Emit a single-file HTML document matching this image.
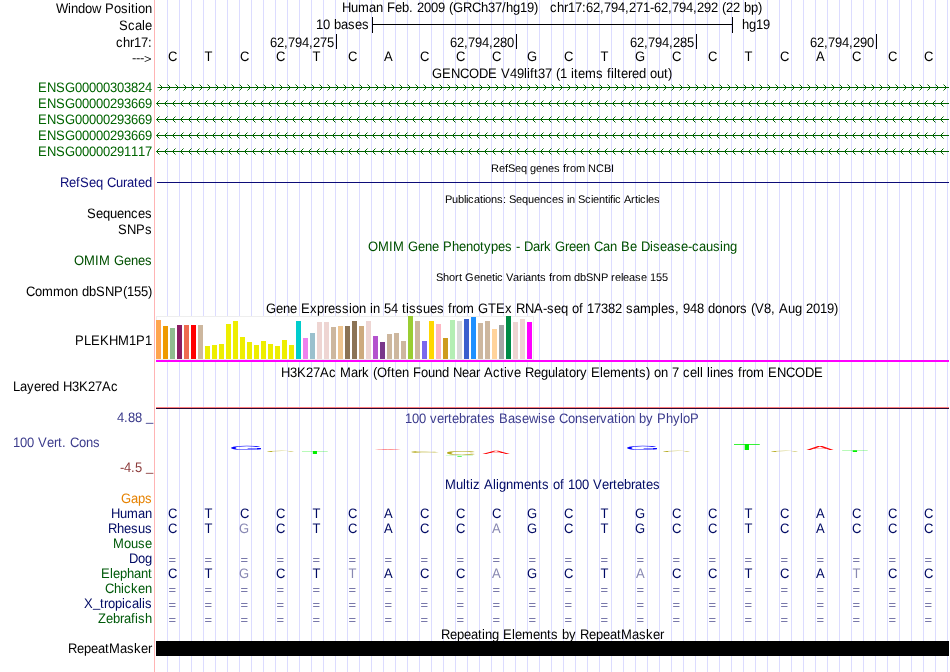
<!DOCTYPE html>
<html><head><meta charset="utf-8"><title>chr17:62,794,271-62,794,292</title>
<style>html,body{margin:0;padding:0;background:#fff}svg{display:block}text{text-rendering:geometricPrecision;white-space:pre;font-kerning:none;font-family:"Liberation Sans", sans-serif;font-size:13px;fill:#000}.s{font-size:11px}.q{font-size:11px;fill:#7878aa;text-rendering:auto}.g{fill:#006400}.b{fill:#0c0c78}.n{fill:#000a64}.v{fill:#005a0a}.o{fill:#005000}.e{text-anchor:end}.m{text-anchor:middle}</style>
</head><body>
<svg width="950" height="672" viewBox="0 0 950 672">
<rect width="950" height="672" fill="#fff"/>
<path d="M167 0v672M179 0v672M191 0v672M203 0v672M215 0v672M227 0v672M239 0v672M251 0v672M263 0v672M275 0v672M287 0v672M299 0v672M311 0v672M323 0v672M335 0v672M347 0v672M359 0v672M371 0v672M383 0v672M395 0v672M407 0v672M419 0v672M431 0v672M443 0v672M455 0v672M467 0v672M479 0v672M491 0v672M503 0v672M515 0v672M527 0v672M539 0v672M551 0v672M563 0v672M575 0v672M587 0v672M599 0v672M611 0v672M623 0v672M635 0v672M647 0v672M659 0v672M671 0v672M683 0v672M695 0v672M707 0v672M719 0v672M731 0v672M743 0v672M755 0v672M767 0v672M779 0v672M791 0v672M803 0v672M815 0v672M827 0v672M839 0v672M851 0v672M863 0v672M875 0v672M887 0v672M899 0v672M911 0v672M923 0v672M935 0v672M947 0v672" stroke="#dcdcff" stroke-width="1" transform="translate(.5 0)" shape-rendering="crispEdges" fill="none"/>
<rect x="154" y="0" width="1" height="672" fill="#ffb4b4"/>
<text transform="matrix(1 0 0 1.0600 0 12.5)" x="56 68 71 78 85 92 101 105 114 121 128 131 135 138 145" y="0">Window Position</text>
<text transform="matrix(1 0 0 1.0600 0 12)" x="342 351 358 369 376 383 387 395 402 409 413 417 424 431 438 445 449 453 463 472 481 488 495 502 506 513 520 527 534 538 542 546 550 557 564 568 575 582 586 593 600 604 611 618 625 629 636 643 650 654 661 668 672 679 686 693 697 704 711 718 722 726 733 740 744 751 758" y="0">Human Feb. 2009 (GRCh37/hg19)   chr17:62,794,271-62,794,292 (22 bp)</text>
<text transform="matrix(1 0 0 1.0600 0 29.5)" x="119 128 135 142 145" y="0">Scale</text>
<text transform="matrix(1 0 0 1.0600 0 29)" x="316 323 330 334 341 348 355 362" y="0">10 bases</text>
<path d="M372.5 17v16M732.5 17v16M372 24.5h361" stroke="#000" stroke-width="1" fill="none" shape-rendering="crispEdges"/>
<text transform="matrix(1 0 0 1.0600 0 29)" x="742 749 756 763" y="0">hg19</text>
<text transform="matrix(1 0 0 1.0600 0 46.5)" x="116 123 130 134 141 148" y="0">chr17:</text>
<rect x="336" y="34" width="1" height="15" fill="#000"/>
<text transform="matrix(1 0 0 1.0600 0 46.5)" x="270 277 284 288 295 302 309 313 320 327" y="0">62,794,275</text>
<rect x="516" y="34" width="1" height="15" fill="#000"/>
<text transform="matrix(1 0 0 1.0600 0 46.5)" x="450 457 464 468 475 482 489 493 500 507" y="0">62,794,280</text>
<rect x="696" y="34" width="1" height="15" fill="#000"/>
<text transform="matrix(1 0 0 1.0600 0 46.5)" x="630 637 644 648 655 662 669 673 680 687" y="0">62,794,285</text>
<rect x="876" y="34" width="1" height="15" fill="#000"/>
<text transform="matrix(1 0 0 1.0600 0 46.5)" x="810 817 824 828 835 842 849 853 860 867" y="0">62,794,290</text>
<text transform="matrix(1 0 0 0.9400 0 62.6)" x="132 136 140 144" y="-1 -1 -1 0">---&gt;</text>
<text transform="matrix(1 0 0 1.0600 0 60.5)" x="168" y="0">C</text>
<text transform="matrix(1 0 0 1.0600 0 60.5)" x="204.5" y="0">T</text>
<text transform="matrix(1 0 0 1.0600 0 60.5)" x="240" y="0">C</text>
<text transform="matrix(1 0 0 1.0600 0 60.5)" x="276" y="0">C</text>
<text transform="matrix(1 0 0 1.0600 0 60.5)" x="312.5" y="0">T</text>
<text transform="matrix(1 0 0 1.0600 0 60.5)" x="348" y="0">C</text>
<text transform="matrix(1 0 0 1.0600 0 60.5)" x="384" y="0">A</text>
<text transform="matrix(1 0 0 1.0600 0 60.5)" x="420" y="0">C</text>
<text transform="matrix(1 0 0 1.0600 0 60.5)" x="456" y="0">C</text>
<text transform="matrix(1 0 0 1.0600 0 60.5)" x="492" y="0">C</text>
<text transform="matrix(1 0 0 1.0600 0 60.5)" x="527" y="0">G</text>
<text transform="matrix(1 0 0 1.0600 0 60.5)" x="564" y="0">C</text>
<text transform="matrix(1 0 0 1.0600 0 60.5)" x="600.5" y="0">T</text>
<text transform="matrix(1 0 0 1.0600 0 60.5)" x="635" y="0">G</text>
<text transform="matrix(1 0 0 1.0600 0 60.5)" x="672" y="0">C</text>
<text transform="matrix(1 0 0 1.0600 0 60.5)" x="708" y="0">C</text>
<text transform="matrix(1 0 0 1.0600 0 60.5)" x="744.5" y="0">T</text>
<text transform="matrix(1 0 0 1.0600 0 60.5)" x="780" y="0">C</text>
<text transform="matrix(1 0 0 1.0600 0 60.5)" x="816" y="0">A</text>
<text transform="matrix(1 0 0 1.0600 0 60.5)" x="852" y="0">C</text>
<text transform="matrix(1 0 0 1.0600 0 60.5)" x="888" y="0">C</text>
<text transform="matrix(1 0 0 1.0600 0 60.5)" x="924" y="0">C</text>
<text transform="matrix(1 0 0 1.0600 0 77.6)" x="432 442 451 460 469 479 488 497 501 510 517 524 527 530 534 538 545 552 556 560 567 571 574 578 585 596 603 607 611 614 617 621 628 632 639 646 650 657 664 668" y="0">GENCODE V49lift37 (1 items filtered out)</text>
<text transform="matrix(1 0 0 1.0600 0 92)" x="38 47 56 65 75 82 89 96 103 110 117 124 131 138 145" y="0" class="g">ENSG00000303824</text>
<path d="M157 87.5H948.5M159 84.5l3 3l-3 3M167 84.5l3 3l-3 3M175 84.5l3 3l-3 3M183 84.5l3 3l-3 3M191 84.5l3 3l-3 3M199 84.5l3 3l-3 3M207 84.5l3 3l-3 3M215 84.5l3 3l-3 3M223 84.5l3 3l-3 3M231 84.5l3 3l-3 3M239 84.5l3 3l-3 3M247 84.5l3 3l-3 3M255 84.5l3 3l-3 3M263 84.5l3 3l-3 3M271 84.5l3 3l-3 3M279 84.5l3 3l-3 3M287 84.5l3 3l-3 3M295 84.5l3 3l-3 3M303 84.5l3 3l-3 3M311 84.5l3 3l-3 3M319 84.5l3 3l-3 3M327 84.5l3 3l-3 3M335 84.5l3 3l-3 3M343 84.5l3 3l-3 3M351 84.5l3 3l-3 3M359 84.5l3 3l-3 3M367 84.5l3 3l-3 3M375 84.5l3 3l-3 3M383 84.5l3 3l-3 3M391 84.5l3 3l-3 3M399 84.5l3 3l-3 3M407 84.5l3 3l-3 3M415 84.5l3 3l-3 3M423 84.5l3 3l-3 3M431 84.5l3 3l-3 3M439 84.5l3 3l-3 3M447 84.5l3 3l-3 3M455 84.5l3 3l-3 3M463 84.5l3 3l-3 3M471 84.5l3 3l-3 3M479 84.5l3 3l-3 3M487 84.5l3 3l-3 3M495 84.5l3 3l-3 3M503 84.5l3 3l-3 3M511 84.5l3 3l-3 3M519 84.5l3 3l-3 3M527 84.5l3 3l-3 3M535 84.5l3 3l-3 3M543 84.5l3 3l-3 3M551 84.5l3 3l-3 3M559 84.5l3 3l-3 3M567 84.5l3 3l-3 3M575 84.5l3 3l-3 3M583 84.5l3 3l-3 3M591 84.5l3 3l-3 3M599 84.5l3 3l-3 3M607 84.5l3 3l-3 3M615 84.5l3 3l-3 3M623 84.5l3 3l-3 3M631 84.5l3 3l-3 3M639 84.5l3 3l-3 3M647 84.5l3 3l-3 3M655 84.5l3 3l-3 3M663 84.5l3 3l-3 3M671 84.5l3 3l-3 3M679 84.5l3 3l-3 3M687 84.5l3 3l-3 3M695 84.5l3 3l-3 3M703 84.5l3 3l-3 3M711 84.5l3 3l-3 3M719 84.5l3 3l-3 3M727 84.5l3 3l-3 3M735 84.5l3 3l-3 3M743 84.5l3 3l-3 3M751 84.5l3 3l-3 3M759 84.5l3 3l-3 3M767 84.5l3 3l-3 3M775 84.5l3 3l-3 3M783 84.5l3 3l-3 3M791 84.5l3 3l-3 3M799 84.5l3 3l-3 3M807 84.5l3 3l-3 3M815 84.5l3 3l-3 3M823 84.5l3 3l-3 3M831 84.5l3 3l-3 3M839 84.5l3 3l-3 3M847 84.5l3 3l-3 3M855 84.5l3 3l-3 3M863 84.5l3 3l-3 3M871 84.5l3 3l-3 3M879 84.5l3 3l-3 3M887 84.5l3 3l-3 3M895 84.5l3 3l-3 3M903 84.5l3 3l-3 3M911 84.5l3 3l-3 3M919 84.5l3 3l-3 3M927 84.5l3 3l-3 3M935 84.5l3 3l-3 3M943 84.5l3 3l-3 3" stroke="#006400" stroke-width="1" fill="none" transform="translate(.5 0)"/>
<text transform="matrix(1 0 0 1.0600 0 108)" x="38 47 56 65 75 82 89 96 103 110 117 124 131 138 145" y="0" class="g">ENSG00000293669</text>
<path d="M156 103.5H948.5M159 100.5l-3 3l3 3M167 100.5l-3 3l3 3M175 100.5l-3 3l3 3M183 100.5l-3 3l3 3M191 100.5l-3 3l3 3M199 100.5l-3 3l3 3M207 100.5l-3 3l3 3M215 100.5l-3 3l3 3M223 100.5l-3 3l3 3M231 100.5l-3 3l3 3M239 100.5l-3 3l3 3M247 100.5l-3 3l3 3M255 100.5l-3 3l3 3M263 100.5l-3 3l3 3M271 100.5l-3 3l3 3M279 100.5l-3 3l3 3M287 100.5l-3 3l3 3M295 100.5l-3 3l3 3M303 100.5l-3 3l3 3M311 100.5l-3 3l3 3M319 100.5l-3 3l3 3M327 100.5l-3 3l3 3M335 100.5l-3 3l3 3M343 100.5l-3 3l3 3M351 100.5l-3 3l3 3M359 100.5l-3 3l3 3M367 100.5l-3 3l3 3M375 100.5l-3 3l3 3M383 100.5l-3 3l3 3M391 100.5l-3 3l3 3M399 100.5l-3 3l3 3M407 100.5l-3 3l3 3M415 100.5l-3 3l3 3M423 100.5l-3 3l3 3M431 100.5l-3 3l3 3M439 100.5l-3 3l3 3M447 100.5l-3 3l3 3M455 100.5l-3 3l3 3M463 100.5l-3 3l3 3M471 100.5l-3 3l3 3M479 100.5l-3 3l3 3M487 100.5l-3 3l3 3M495 100.5l-3 3l3 3M503 100.5l-3 3l3 3M511 100.5l-3 3l3 3M519 100.5l-3 3l3 3M527 100.5l-3 3l3 3M535 100.5l-3 3l3 3M543 100.5l-3 3l3 3M551 100.5l-3 3l3 3M559 100.5l-3 3l3 3M567 100.5l-3 3l3 3M575 100.5l-3 3l3 3M583 100.5l-3 3l3 3M591 100.5l-3 3l3 3M599 100.5l-3 3l3 3M607 100.5l-3 3l3 3M615 100.5l-3 3l3 3M623 100.5l-3 3l3 3M631 100.5l-3 3l3 3M639 100.5l-3 3l3 3M647 100.5l-3 3l3 3M655 100.5l-3 3l3 3M663 100.5l-3 3l3 3M671 100.5l-3 3l3 3M679 100.5l-3 3l3 3M687 100.5l-3 3l3 3M695 100.5l-3 3l3 3M703 100.5l-3 3l3 3M711 100.5l-3 3l3 3M719 100.5l-3 3l3 3M727 100.5l-3 3l3 3M735 100.5l-3 3l3 3M743 100.5l-3 3l3 3M751 100.5l-3 3l3 3M759 100.5l-3 3l3 3M767 100.5l-3 3l3 3M775 100.5l-3 3l3 3M783 100.5l-3 3l3 3M791 100.5l-3 3l3 3M799 100.5l-3 3l3 3M807 100.5l-3 3l3 3M815 100.5l-3 3l3 3M823 100.5l-3 3l3 3M831 100.5l-3 3l3 3M839 100.5l-3 3l3 3M847 100.5l-3 3l3 3M855 100.5l-3 3l3 3M863 100.5l-3 3l3 3M871 100.5l-3 3l3 3M879 100.5l-3 3l3 3M887 100.5l-3 3l3 3M895 100.5l-3 3l3 3M903 100.5l-3 3l3 3M911 100.5l-3 3l3 3M919 100.5l-3 3l3 3M927 100.5l-3 3l3 3M935 100.5l-3 3l3 3M943 100.5l-3 3l3 3" stroke="#006400" stroke-width="1" fill="none" transform="translate(.5 0)"/>
<text transform="matrix(1 0 0 1.0600 0 124)" x="38 47 56 65 75 82 89 96 103 110 117 124 131 138 145" y="0" class="g">ENSG00000293669</text>
<path d="M156 119.5H948.5M159 116.5l-3 3l3 3M167 116.5l-3 3l3 3M175 116.5l-3 3l3 3M183 116.5l-3 3l3 3M191 116.5l-3 3l3 3M199 116.5l-3 3l3 3M207 116.5l-3 3l3 3M215 116.5l-3 3l3 3M223 116.5l-3 3l3 3M231 116.5l-3 3l3 3M239 116.5l-3 3l3 3M247 116.5l-3 3l3 3M255 116.5l-3 3l3 3M263 116.5l-3 3l3 3M271 116.5l-3 3l3 3M279 116.5l-3 3l3 3M287 116.5l-3 3l3 3M295 116.5l-3 3l3 3M303 116.5l-3 3l3 3M311 116.5l-3 3l3 3M319 116.5l-3 3l3 3M327 116.5l-3 3l3 3M335 116.5l-3 3l3 3M343 116.5l-3 3l3 3M351 116.5l-3 3l3 3M359 116.5l-3 3l3 3M367 116.5l-3 3l3 3M375 116.5l-3 3l3 3M383 116.5l-3 3l3 3M391 116.5l-3 3l3 3M399 116.5l-3 3l3 3M407 116.5l-3 3l3 3M415 116.5l-3 3l3 3M423 116.5l-3 3l3 3M431 116.5l-3 3l3 3M439 116.5l-3 3l3 3M447 116.5l-3 3l3 3M455 116.5l-3 3l3 3M463 116.5l-3 3l3 3M471 116.5l-3 3l3 3M479 116.5l-3 3l3 3M487 116.5l-3 3l3 3M495 116.5l-3 3l3 3M503 116.5l-3 3l3 3M511 116.5l-3 3l3 3M519 116.5l-3 3l3 3M527 116.5l-3 3l3 3M535 116.5l-3 3l3 3M543 116.5l-3 3l3 3M551 116.5l-3 3l3 3M559 116.5l-3 3l3 3M567 116.5l-3 3l3 3M575 116.5l-3 3l3 3M583 116.5l-3 3l3 3M591 116.5l-3 3l3 3M599 116.5l-3 3l3 3M607 116.5l-3 3l3 3M615 116.5l-3 3l3 3M623 116.5l-3 3l3 3M631 116.5l-3 3l3 3M639 116.5l-3 3l3 3M647 116.5l-3 3l3 3M655 116.5l-3 3l3 3M663 116.5l-3 3l3 3M671 116.5l-3 3l3 3M679 116.5l-3 3l3 3M687 116.5l-3 3l3 3M695 116.5l-3 3l3 3M703 116.5l-3 3l3 3M711 116.5l-3 3l3 3M719 116.5l-3 3l3 3M727 116.5l-3 3l3 3M735 116.5l-3 3l3 3M743 116.5l-3 3l3 3M751 116.5l-3 3l3 3M759 116.5l-3 3l3 3M767 116.5l-3 3l3 3M775 116.5l-3 3l3 3M783 116.5l-3 3l3 3M791 116.5l-3 3l3 3M799 116.5l-3 3l3 3M807 116.5l-3 3l3 3M815 116.5l-3 3l3 3M823 116.5l-3 3l3 3M831 116.5l-3 3l3 3M839 116.5l-3 3l3 3M847 116.5l-3 3l3 3M855 116.5l-3 3l3 3M863 116.5l-3 3l3 3M871 116.5l-3 3l3 3M879 116.5l-3 3l3 3M887 116.5l-3 3l3 3M895 116.5l-3 3l3 3M903 116.5l-3 3l3 3M911 116.5l-3 3l3 3M919 116.5l-3 3l3 3M927 116.5l-3 3l3 3M935 116.5l-3 3l3 3M943 116.5l-3 3l3 3" stroke="#006400" stroke-width="1" fill="none" transform="translate(.5 0)"/>
<text transform="matrix(1 0 0 1.0600 0 140)" x="38 47 56 65 75 82 89 96 103 110 117 124 131 138 145" y="0" class="g">ENSG00000293669</text>
<path d="M156 135.5H948.5M159 132.5l-3 3l3 3M167 132.5l-3 3l3 3M175 132.5l-3 3l3 3M183 132.5l-3 3l3 3M191 132.5l-3 3l3 3M199 132.5l-3 3l3 3M207 132.5l-3 3l3 3M215 132.5l-3 3l3 3M223 132.5l-3 3l3 3M231 132.5l-3 3l3 3M239 132.5l-3 3l3 3M247 132.5l-3 3l3 3M255 132.5l-3 3l3 3M263 132.5l-3 3l3 3M271 132.5l-3 3l3 3M279 132.5l-3 3l3 3M287 132.5l-3 3l3 3M295 132.5l-3 3l3 3M303 132.5l-3 3l3 3M311 132.5l-3 3l3 3M319 132.5l-3 3l3 3M327 132.5l-3 3l3 3M335 132.5l-3 3l3 3M343 132.5l-3 3l3 3M351 132.5l-3 3l3 3M359 132.5l-3 3l3 3M367 132.5l-3 3l3 3M375 132.5l-3 3l3 3M383 132.5l-3 3l3 3M391 132.5l-3 3l3 3M399 132.5l-3 3l3 3M407 132.5l-3 3l3 3M415 132.5l-3 3l3 3M423 132.5l-3 3l3 3M431 132.5l-3 3l3 3M439 132.5l-3 3l3 3M447 132.5l-3 3l3 3M455 132.5l-3 3l3 3M463 132.5l-3 3l3 3M471 132.5l-3 3l3 3M479 132.5l-3 3l3 3M487 132.5l-3 3l3 3M495 132.5l-3 3l3 3M503 132.5l-3 3l3 3M511 132.5l-3 3l3 3M519 132.5l-3 3l3 3M527 132.5l-3 3l3 3M535 132.5l-3 3l3 3M543 132.5l-3 3l3 3M551 132.5l-3 3l3 3M559 132.5l-3 3l3 3M567 132.5l-3 3l3 3M575 132.5l-3 3l3 3M583 132.5l-3 3l3 3M591 132.5l-3 3l3 3M599 132.5l-3 3l3 3M607 132.5l-3 3l3 3M615 132.5l-3 3l3 3M623 132.5l-3 3l3 3M631 132.5l-3 3l3 3M639 132.5l-3 3l3 3M647 132.5l-3 3l3 3M655 132.5l-3 3l3 3M663 132.5l-3 3l3 3M671 132.5l-3 3l3 3M679 132.5l-3 3l3 3M687 132.5l-3 3l3 3M695 132.5l-3 3l3 3M703 132.5l-3 3l3 3M711 132.5l-3 3l3 3M719 132.5l-3 3l3 3M727 132.5l-3 3l3 3M735 132.5l-3 3l3 3M743 132.5l-3 3l3 3M751 132.5l-3 3l3 3M759 132.5l-3 3l3 3M767 132.5l-3 3l3 3M775 132.5l-3 3l3 3M783 132.5l-3 3l3 3M791 132.5l-3 3l3 3M799 132.5l-3 3l3 3M807 132.5l-3 3l3 3M815 132.5l-3 3l3 3M823 132.5l-3 3l3 3M831 132.5l-3 3l3 3M839 132.5l-3 3l3 3M847 132.5l-3 3l3 3M855 132.5l-3 3l3 3M863 132.5l-3 3l3 3M871 132.5l-3 3l3 3M879 132.5l-3 3l3 3M887 132.5l-3 3l3 3M895 132.5l-3 3l3 3M903 132.5l-3 3l3 3M911 132.5l-3 3l3 3M919 132.5l-3 3l3 3M927 132.5l-3 3l3 3M935 132.5l-3 3l3 3M943 132.5l-3 3l3 3" stroke="#006400" stroke-width="1" fill="none" transform="translate(.5 0)"/>
<text transform="matrix(1 0 0 1.0600 0 156)" x="38 47 56 65 75 82 89 96 103 110 117 124 131 138 145" y="0" class="g">ENSG00000291117</text>
<path d="M156 151.5H948.5M159 148.5l-3 3l3 3M167 148.5l-3 3l3 3M175 148.5l-3 3l3 3M183 148.5l-3 3l3 3M191 148.5l-3 3l3 3M199 148.5l-3 3l3 3M207 148.5l-3 3l3 3M215 148.5l-3 3l3 3M223 148.5l-3 3l3 3M231 148.5l-3 3l3 3M239 148.5l-3 3l3 3M247 148.5l-3 3l3 3M255 148.5l-3 3l3 3M263 148.5l-3 3l3 3M271 148.5l-3 3l3 3M279 148.5l-3 3l3 3M287 148.5l-3 3l3 3M295 148.5l-3 3l3 3M303 148.5l-3 3l3 3M311 148.5l-3 3l3 3M319 148.5l-3 3l3 3M327 148.5l-3 3l3 3M335 148.5l-3 3l3 3M343 148.5l-3 3l3 3M351 148.5l-3 3l3 3M359 148.5l-3 3l3 3M367 148.5l-3 3l3 3M375 148.5l-3 3l3 3M383 148.5l-3 3l3 3M391 148.5l-3 3l3 3M399 148.5l-3 3l3 3M407 148.5l-3 3l3 3M415 148.5l-3 3l3 3M423 148.5l-3 3l3 3M431 148.5l-3 3l3 3M439 148.5l-3 3l3 3M447 148.5l-3 3l3 3M455 148.5l-3 3l3 3M463 148.5l-3 3l3 3M471 148.5l-3 3l3 3M479 148.5l-3 3l3 3M487 148.5l-3 3l3 3M495 148.5l-3 3l3 3M503 148.5l-3 3l3 3M511 148.5l-3 3l3 3M519 148.5l-3 3l3 3M527 148.5l-3 3l3 3M535 148.5l-3 3l3 3M543 148.5l-3 3l3 3M551 148.5l-3 3l3 3M559 148.5l-3 3l3 3M567 148.5l-3 3l3 3M575 148.5l-3 3l3 3M583 148.5l-3 3l3 3M591 148.5l-3 3l3 3M599 148.5l-3 3l3 3M607 148.5l-3 3l3 3M615 148.5l-3 3l3 3M623 148.5l-3 3l3 3M631 148.5l-3 3l3 3M639 148.5l-3 3l3 3M647 148.5l-3 3l3 3M655 148.5l-3 3l3 3M663 148.5l-3 3l3 3M671 148.5l-3 3l3 3M679 148.5l-3 3l3 3M687 148.5l-3 3l3 3M695 148.5l-3 3l3 3M703 148.5l-3 3l3 3M711 148.5l-3 3l3 3M719 148.5l-3 3l3 3M727 148.5l-3 3l3 3M735 148.5l-3 3l3 3M743 148.5l-3 3l3 3M751 148.5l-3 3l3 3M759 148.5l-3 3l3 3M767 148.5l-3 3l3 3M775 148.5l-3 3l3 3M783 148.5l-3 3l3 3M791 148.5l-3 3l3 3M799 148.5l-3 3l3 3M807 148.5l-3 3l3 3M815 148.5l-3 3l3 3M823 148.5l-3 3l3 3M831 148.5l-3 3l3 3M839 148.5l-3 3l3 3M847 148.5l-3 3l3 3M855 148.5l-3 3l3 3M863 148.5l-3 3l3 3M871 148.5l-3 3l3 3M879 148.5l-3 3l3 3M887 148.5l-3 3l3 3M895 148.5l-3 3l3 3M903 148.5l-3 3l3 3M911 148.5l-3 3l3 3M919 148.5l-3 3l3 3M927 148.5l-3 3l3 3M935 148.5l-3 3l3 3M943 148.5l-3 3l3 3" stroke="#006400" stroke-width="1" fill="none" transform="translate(.5 0)"/>
<text x="491 499 505 508 515 521 527 530 536 542 548 554 560 563 566 570 576 585 588 596 604 611" y="172" class="s">RefSeq genes from NCBI</text>
<text transform="matrix(1 0 0 1.0600 0 187)" x="60 69 76 80 89 96 103 107 116 123 127 134 138 145" y="0" class="b">RefSeq Curated</text>
<rect x="157" y="182" width="792" height="1" fill="#0c0c78"/>
<text x="445 452 458 464 466 468 474 480 483 485 491 497 503 506 509 516 522 528 534 540 546 552 558 564 567 569 575 578 585 591 593 599 605 608 610 613 615 621 624 631 635 638 640 646 648 654" y="202.5" class="s">Publications: Sequences in Scientific Articles</text>
<text transform="matrix(1 0 0 1.0600 0 218)" x="87 96 103 110 117 124 131 138 145" y="0">Sequences</text>
<text transform="matrix(1 0 0 1.0600 0 233.5)" x="118 127 136 145" y="0">SNPs</text>
<text transform="matrix(1 0 0 1.0600 0 251)" x="368 378 389 393 404 408 418 425 432 439 443 452 459 466 473 480 484 491 498 505 512 516 520 524 533 540 544 551 555 565 569 576 583 590 594 603 610 617 621 630 637 641 650 653 660 667 674 681 688 692 699 706 713 720 723 730" y="0" class="o">OMIM Gene Phenotypes - Dark Green Can Be Disease-causing</text>
<text transform="matrix(1 0 0 1.0600 0 265)" x="74 84 95 99 110 114 124 131 138 145" y="0" class="o">OMIM Genes</text>
<text x="436 443 449 455 459 462 465 474 480 486 492 495 497 503 506 513 519 523 525 531 537 540 546 549 552 556 562 571 574 580 586 593 601 608 611 615 621 623 629 635 641 647 650 656 662" y="280.5" class="s">Short Genetic Variants from dbSNP release 155</text>
<text transform="matrix(1 0 0 1.0600 0 295.5)" x="26 35 42 53 64 71 78 82 89 96 105 114 123 127 134 141 148" y="0">Common dbSNP(155)</text>
<text transform="matrix(1 0 0 1.0600 0 312.5)" x="266 276 283 290 297 301 310 317 324 328 335 342 349 352 359 366 370 373 380 384 391 398 402 406 409 416 423 430 437 444 448 452 456 463 474 478 488 496 505 512 516 525 534 543 547 554 561 568 572 579 583 587 594 601 608 615 622 626 633 640 651 658 661 668 675 679 683 690 697 704 708 715 722 729 736 740 747 751 755 764 771 775 779 788 795 802 806 813 820 827 834" y="0">Gene Expression in 54 tissues from GTEx RNA-seq of 17382 samples, 948 donors (V8, Aug 2019)</text>
<text transform="matrix(1 0 0 1.0600 0 345)" x="75 84 91 100 109 118 129 136 145" y="0">PLEKHM1P1</text>
<rect x="156" y="316" width="378" height="44" fill="#fff"/><path d="M156 316.5H534M156 359.5H534M533.5 316V360M156.5 316V360" stroke="#eee" stroke-width="1" fill="none"/>
<rect x="156" y="320" width="5" height="39" fill="#ffa54f"/>
<rect x="163" y="326" width="5" height="33" fill="#ee9a00"/>
<rect x="170" y="328" width="5" height="31" fill="#8fbc8f"/>
<rect x="177" y="325" width="5" height="34" fill="#8b1c62"/>
<rect x="184" y="325" width="5" height="34" fill="#ee6a50"/>
<rect x="191" y="325" width="5" height="34" fill="#ff0000"/>
<rect x="198" y="325" width="5" height="34" fill="#cdb79e"/>
<rect x="205" y="346" width="5" height="13" fill="#eeee00"/>
<rect x="212" y="345" width="5" height="14" fill="#eeee00"/>
<rect x="219" y="344" width="5" height="15" fill="#eeee00"/>
<rect x="226" y="324" width="5" height="35" fill="#eeee00"/>
<rect x="233" y="321" width="5" height="38" fill="#eeee00"/>
<rect x="240" y="337" width="5" height="22" fill="#eeee00"/>
<rect x="247" y="342" width="5" height="17" fill="#eeee00"/>
<rect x="254" y="345" width="5" height="14" fill="#eeee00"/>
<rect x="261" y="341" width="5" height="18" fill="#eeee00"/>
<rect x="268" y="344" width="5" height="15" fill="#eeee00"/>
<rect x="275" y="346" width="5" height="13" fill="#eeee00"/>
<rect x="282" y="340" width="5" height="19" fill="#eeee00"/>
<rect x="289" y="345" width="5" height="14" fill="#eeee00"/>
<rect x="296" y="321" width="5" height="38" fill="#00cdcd"/>
<rect x="303" y="338" width="5" height="21" fill="#ee82ee"/>
<rect x="310" y="333" width="5" height="26" fill="#9ac0cd"/>
<rect x="317" y="322" width="5" height="37" fill="#eed5d2"/>
<rect x="324" y="322" width="5" height="37" fill="#eed5d2"/>
<rect x="331" y="327" width="5" height="32" fill="#cdb79e"/>
<rect x="338" y="326" width="5" height="33" fill="#eec591"/>
<rect x="345" y="326" width="5" height="33" fill="#8b7355"/>
<rect x="352" y="321" width="5" height="38" fill="#8b7355"/>
<rect x="359" y="326" width="5" height="33" fill="#cdaa7d"/>
<rect x="366" y="321" width="5" height="38" fill="#eed5d2"/>
<rect x="373" y="336" width="5" height="23" fill="#b452cd"/>
<rect x="380" y="342" width="5" height="17" fill="#7a378b"/>
<rect x="387" y="334" width="5" height="25" fill="#cdb79e"/>
<rect x="394" y="333" width="5" height="26" fill="#cdb79e"/>
<rect x="401" y="341" width="5" height="18" fill="#cdb79e"/>
<rect x="408" y="316" width="5" height="43" fill="#9acd32"/>
<rect x="415" y="321" width="5" height="38" fill="#cdb79e"/>
<rect x="422" y="341" width="5" height="18" fill="#7a67ee"/>
<rect x="429" y="321" width="5" height="38" fill="#ffd700"/>
<rect x="436" y="324" width="5" height="35" fill="#ffb6c1"/>
<rect x="443" y="338" width="5" height="21" fill="#cd9b1d"/>
<rect x="450" y="320" width="5" height="39" fill="#b4eeb4"/>
<rect x="457" y="321" width="5" height="38" fill="#d9d9d9"/>
<rect x="464" y="319" width="5" height="40" fill="#3a5fcd"/>
<rect x="471" y="317" width="5" height="42" fill="#1e90ff"/>
<rect x="478" y="323" width="5" height="36" fill="#cdb79e"/>
<rect x="485" y="321" width="5" height="38" fill="#cdb79e"/>
<rect x="492" y="329" width="5" height="30" fill="#ffd39b"/>
<rect x="499" y="325" width="5" height="34" fill="#a6a6a6"/>
<rect x="506" y="316" width="5" height="43" fill="#008b45"/>
<rect x="513" y="322" width="5" height="37" fill="#eed5d2"/>
<rect x="520" y="319" width="5" height="40" fill="#eed5d2"/>
<rect x="527" y="322" width="5" height="37" fill="#ff00ff"/>
<rect x="156" y="360" width="793" height="2" fill="#ff00ff"/>
<text transform="matrix(1 0 0 1.0600 0 377)" x="281 290 297 306 313 320 329 336 340 351 358 362 369 373 377 387 391 395 402 409 413 421 428 435 442 449 453 462 469 476 480 484 493 500 504 507 514 521 525 534 541 548 555 558 565 569 576 580 587 591 600 603 610 621 628 635 639 646 650 654 661 668 672 679 683 690 697 700 703 707 710 713 720 727 734 738 742 746 753 764 768 777 786 795 805 814" y="0">H3K27Ac Mark (Often Found Near Active Regulatory Elements) on 7 cell lines from ENCODE</text>
<text transform="matrix(1 0 0 1.0600 0 390.5)" x="13 20 27 34 41 45 52 59 63 72 79 88 95 102 111" y="0">Layered H3K27Ac</text>
<rect x="156" y="407" width="793" height="1" fill="#ff7c7c"/><rect x="156" y="408" width="793" height="1" fill="#2a0a32"/>
<text transform="matrix(1 0 0 1.0600 0 423)" x="405 412 419 426 430 437 444 448 452 459 466 470 477 481 488 495 499 508 515 522 529 538 541 548 555 559 568 575 582 589 596 600 607 614 618 621 628 635 639 646 653 657 666 673 680 683 690" y="0" style="fill:#3c3c8c">100 vertebrates Basewise Conservation by PhyloP</text>
<text transform="matrix(1 0 0 1.0600 0 422)" x="117 124 128 135 142 146" y="0 0 0 0 0 -0.94" style="fill:#3c3c8c">4.88 _</text>
<text transform="matrix(1 0 0 1.0600 0 446.5)" x="13 20 27 34 38 47 54 58 62 66 70 79 86 93" y="0" style="fill:#3c3c8c">100 Vert. Cons</text>
<text transform="matrix(1 0 0 1.0600 0 472)" x="120 124 131 135 142 146" y="0 0 0 0 0 -0.94" style="fill:#8c3c3c">-4.5 _</text>
<text transform="matrix(3.5349 0 0 0.4563 228.69 450.14)" x="0" y="0" style="font-size:13px;fill:#0000ff">G</text>
<text transform="matrix(3.2795 0 0 0.1304 265.34 451.98)" x="0" y="0" style="font-size:13px;fill:#b4aa1e">C</text>
<text transform="matrix(3.5099 0 0 0.3466 300.98 454.00)" x="0" y="0" style="font-size:13px;fill:#00ee00">T</text>
<text transform="matrix(3.0394 0 0 0.1118 374.72 450.00)" x="0" y="0" style="font-size:13px;fill:#ff0000;opacity:0.8">A</text>
<text transform="matrix(3.3281 0 0 0.2173 409.20 452.97)" x="0" y="0" style="font-size:13px;fill:#b4aa1e">C</text>
<text transform="matrix(3.4010 0 0 0.4346 444.75 454.94)" x="0" y="0" style="font-size:13px;fill:#b4aa1e">C</text>
<text transform="matrix(3.6732 0 0 0.1342 444.93 456.50)" x="0" y="0" style="font-size:13px;fill:#00ee00;opacity:0.6">T</text>
<text transform="matrix(3.1902 0 0 0.3690 482.22 454.10)" x="0" y="0" style="font-size:13px;fill:#ff0000">A</text>
<text transform="matrix(3.5349 0 0 0.4563 624.69 450.14)" x="0" y="0" style="font-size:13px;fill:#0000ff">G</text>
<text transform="matrix(3.2795 0 0 0.1304 661.24 451.98)" x="0" y="0" style="font-size:13px;fill:#b4aa1e">C</text>
<text transform="matrix(3.4963 0 0 0.6597 732.98 449.90)" x="0" y="0" style="font-size:13px;fill:#00ee00">T</text>
<text transform="matrix(3.2795 0 0 0.1304 769.24 451.98)" x="0" y="0" style="font-size:13px;fill:#b4aa1e">C</text>
<text transform="matrix(3.1670 0 0 0.4361 806.22 449.90)" x="0" y="0" style="font-size:13px;fill:#ff0000">A</text>
<text transform="matrix(3.4963 0 0 0.1901 840.98 452.30)" x="0" y="0" style="font-size:13px;fill:#00ee00">T</text>
<text transform="matrix(1 0 0 1.0600 0 489)" x="445 456 463 466 470 473 480 484 493 496 499 506 513 524 531 538 542 549 553 560 564 568 575 582 589 593 602 609 613 617 624 631 635 642 646 653" y="0" class="n">Multiz Alignments of 100 Vertebrates</text>
<text transform="matrix(1 0 0 1.0600 0 502.5)" x="121 131 138 145" y="0" style="fill:#e68200">Gaps</text>
<text transform="matrix(1 0 0 1.0600 0 517.5)" x="111 120 127 138 145" y="0" class="n">Human</text>
<text transform="matrix(1 0 0 1.0600 0 517.5)" x="168" y="0" class="n">C</text>
<text transform="matrix(1 0 0 1.0600 0 517.5)" x="204.5" y="0" class="n">T</text>
<text transform="matrix(1 0 0 1.0600 0 517.5)" x="240" y="0" class="n">C</text>
<text transform="matrix(1 0 0 1.0600 0 517.5)" x="276" y="0" class="n">C</text>
<text transform="matrix(1 0 0 1.0600 0 517.5)" x="312.5" y="0" class="n">T</text>
<text transform="matrix(1 0 0 1.0600 0 517.5)" x="348" y="0" class="n">C</text>
<text transform="matrix(1 0 0 1.0600 0 517.5)" x="384" y="0" class="n">A</text>
<text transform="matrix(1 0 0 1.0600 0 517.5)" x="420" y="0" class="n">C</text>
<text transform="matrix(1 0 0 1.0600 0 517.5)" x="456" y="0" class="n">C</text>
<text transform="matrix(1 0 0 1.0600 0 517.5)" x="492" y="0" class="n">C</text>
<text transform="matrix(1 0 0 1.0600 0 517.5)" x="527" y="0" class="n">G</text>
<text transform="matrix(1 0 0 1.0600 0 517.5)" x="564" y="0" class="n">C</text>
<text transform="matrix(1 0 0 1.0600 0 517.5)" x="600.5" y="0" class="n">T</text>
<text transform="matrix(1 0 0 1.0600 0 517.5)" x="635" y="0" class="n">G</text>
<text transform="matrix(1 0 0 1.0600 0 517.5)" x="672" y="0" class="n">C</text>
<text transform="matrix(1 0 0 1.0600 0 517.5)" x="708" y="0" class="n">C</text>
<text transform="matrix(1 0 0 1.0600 0 517.5)" x="744.5" y="0" class="n">T</text>
<text transform="matrix(1 0 0 1.0600 0 517.5)" x="780" y="0" class="n">C</text>
<text transform="matrix(1 0 0 1.0600 0 517.5)" x="816" y="0" class="n">A</text>
<text transform="matrix(1 0 0 1.0600 0 517.5)" x="852" y="0" class="n">C</text>
<text transform="matrix(1 0 0 1.0600 0 517.5)" x="888" y="0" class="n">C</text>
<text transform="matrix(1 0 0 1.0600 0 517.5)" x="924" y="0" class="n">C</text>
<text transform="matrix(1 0 0 1.0600 0 532.5)" x="108 117 124 131 138 145" y="0" class="n">Rhesus</text>
<text transform="matrix(1 0 0 1.0600 0 532.5)" x="168" y="0" class="n">C</text>
<text transform="matrix(1 0 0 1.0600 0 532.5)" x="204.5" y="0" class="n">T</text>
<text transform="matrix(1 0 0 1.0600 0 532.5)" x="239" y="0" style="fill:#8888b2">G</text>
<text transform="matrix(1 0 0 1.0600 0 532.5)" x="276" y="0" class="n">C</text>
<text transform="matrix(1 0 0 1.0600 0 532.5)" x="312.5" y="0" class="n">T</text>
<text transform="matrix(1 0 0 1.0600 0 532.5)" x="348" y="0" class="n">C</text>
<text transform="matrix(1 0 0 1.0600 0 532.5)" x="384" y="0" class="n">A</text>
<text transform="matrix(1 0 0 1.0600 0 532.5)" x="420" y="0" class="n">C</text>
<text transform="matrix(1 0 0 1.0600 0 532.5)" x="456" y="0" class="n">C</text>
<text transform="matrix(1 0 0 1.0600 0 532.5)" x="492" y="0" style="fill:#8888b2">A</text>
<text transform="matrix(1 0 0 1.0600 0 532.5)" x="527" y="0" class="n">G</text>
<text transform="matrix(1 0 0 1.0600 0 532.5)" x="564" y="0" class="n">C</text>
<text transform="matrix(1 0 0 1.0600 0 532.5)" x="600.5" y="0" class="n">T</text>
<text transform="matrix(1 0 0 1.0600 0 532.5)" x="635" y="0" class="n">G</text>
<text transform="matrix(1 0 0 1.0600 0 532.5)" x="672" y="0" class="n">C</text>
<text transform="matrix(1 0 0 1.0600 0 532.5)" x="708" y="0" class="n">C</text>
<text transform="matrix(1 0 0 1.0600 0 532.5)" x="744.5" y="0" class="n">T</text>
<text transform="matrix(1 0 0 1.0600 0 532.5)" x="780" y="0" class="n">C</text>
<text transform="matrix(1 0 0 1.0600 0 532.5)" x="816" y="0" class="n">A</text>
<text transform="matrix(1 0 0 1.0600 0 532.5)" x="852" y="0" class="n">C</text>
<text transform="matrix(1 0 0 1.0600 0 532.5)" x="888" y="0" class="n">C</text>
<text transform="matrix(1 0 0 1.0600 0 532.5)" x="924" y="0" class="n">C</text>
<text transform="matrix(1 0 0 1.0600 0 547.5)" x="113 124 131 138 145" y="0" class="v">Mouse</text>
<text transform="matrix(1 0 0 1.0600 0 562.5)" x="129 138 145" y="0" class="n">Dog</text>
<text class="q" transform="matrix(1.18 0 0 1 0 564)" x="142.88 173.39 203.9 234.41 264.92 295.42 325.93 356.44 386.95 417.46 447.97 478.47 508.98 539.49 570 600.51 631.02 661.53 692.03 722.54 753.05 783.56" y="0">======================</text>
<text transform="matrix(1 0 0 1.0600 0 577.5)" x="101 110 113 120 127 134 141 148" y="0" class="v">Elephant</text>
<text transform="matrix(1 0 0 1.0600 0 577.5)" x="168" y="0" class="n">C</text>
<text transform="matrix(1 0 0 1.0600 0 577.5)" x="204.5" y="0" class="n">T</text>
<text transform="matrix(1 0 0 1.0600 0 577.5)" x="239" y="0" style="fill:#8888b2">G</text>
<text transform="matrix(1 0 0 1.0600 0 577.5)" x="276" y="0" class="n">C</text>
<text transform="matrix(1 0 0 1.0600 0 577.5)" x="312.5" y="0" class="n">T</text>
<text transform="matrix(1 0 0 1.0600 0 577.5)" x="348.5" y="0" style="fill:#8888b2">T</text>
<text transform="matrix(1 0 0 1.0600 0 577.5)" x="384" y="0" class="n">A</text>
<text transform="matrix(1 0 0 1.0600 0 577.5)" x="420" y="0" class="n">C</text>
<text transform="matrix(1 0 0 1.0600 0 577.5)" x="456" y="0" class="n">C</text>
<text transform="matrix(1 0 0 1.0600 0 577.5)" x="492" y="0" style="fill:#8888b2">A</text>
<text transform="matrix(1 0 0 1.0600 0 577.5)" x="527" y="0" class="n">G</text>
<text transform="matrix(1 0 0 1.0600 0 577.5)" x="564" y="0" class="n">C</text>
<text transform="matrix(1 0 0 1.0600 0 577.5)" x="600.5" y="0" class="n">T</text>
<text transform="matrix(1 0 0 1.0600 0 577.5)" x="636" y="0" style="fill:#8888b2">A</text>
<text transform="matrix(1 0 0 1.0600 0 577.5)" x="672" y="0" class="n">C</text>
<text transform="matrix(1 0 0 1.0600 0 577.5)" x="708" y="0" class="n">C</text>
<text transform="matrix(1 0 0 1.0600 0 577.5)" x="744.5" y="0" class="n">T</text>
<text transform="matrix(1 0 0 1.0600 0 577.5)" x="780" y="0" class="n">C</text>
<text transform="matrix(1 0 0 1.0600 0 577.5)" x="816" y="0" class="n">A</text>
<text transform="matrix(1 0 0 1.0600 0 577.5)" x="852.5" y="0" style="fill:#8888b2">T</text>
<text transform="matrix(1 0 0 1.0600 0 577.5)" x="888" y="0" class="n">C</text>
<text transform="matrix(1 0 0 1.0600 0 577.5)" x="924" y="0" class="n">C</text>
<text transform="matrix(1 0 0 1.0600 0 592.5)" x="105 114 121 124 131 138 145" y="0" class="v">Chicken</text>
<text class="q" transform="matrix(1.18 0 0 1 0 594)" x="142.88 173.39 203.9 234.41 264.92 295.42 325.93 356.44 386.95 417.46 447.97 478.47 508.98 539.49 570 600.51 631.02 661.53 692.03 722.54 753.05 783.56" y="0">======================</text>
<text transform="matrix(1 0 0 1.0600 0 607.5)" x="84 93 100 104 108 115 122 125 132 139 142 145" y="0 -0.94 0 0 0 0 0 0 0 0 0 0" class="n">X_tropicalis</text>
<text class="q" transform="matrix(1.18 0 0 1 0 609)" x="142.88 173.39 203.9 234.41 264.92 295.42 325.93 356.44 386.95 417.46 447.97 478.47 508.98 539.49 570 600.51 631.02 661.53 692.03 722.54 753.05 783.56" y="0">======================</text>
<text transform="matrix(1 0 0 1.0600 0 622.5)" x="98 106 113 120 124 131 135 138 145" y="0" class="v">Zebrafish</text>
<text class="q" transform="matrix(1.18 0 0 1 0 624)" x="142.88 173.39 203.9 234.41 264.92 295.42 325.93 356.44 386.95 417.46 447.97 478.47 508.98 539.49 570 600.51 631.02 661.53 692.03 722.54 753.05 783.56" y="0">======================</text>
<text transform="matrix(1 0 0 1.0600 0 639)" x="441 450 457 464 471 478 482 485 492 499 503 512 515 522 533 540 547 551 558 562 569 576 580 589 596 603 610 617 621 632 639 646 653 660" y="0">Repeating Elements by RepeatMasker</text>
<text transform="matrix(1 0 0 1.0600 0 652.5)" x="68 77 84 91 98 105 109 120 127 134 141 148" y="0">RepeatMasker</text>
<rect x="156" y="641" width="793" height="15" fill="#000"/>
</svg></body></html>
